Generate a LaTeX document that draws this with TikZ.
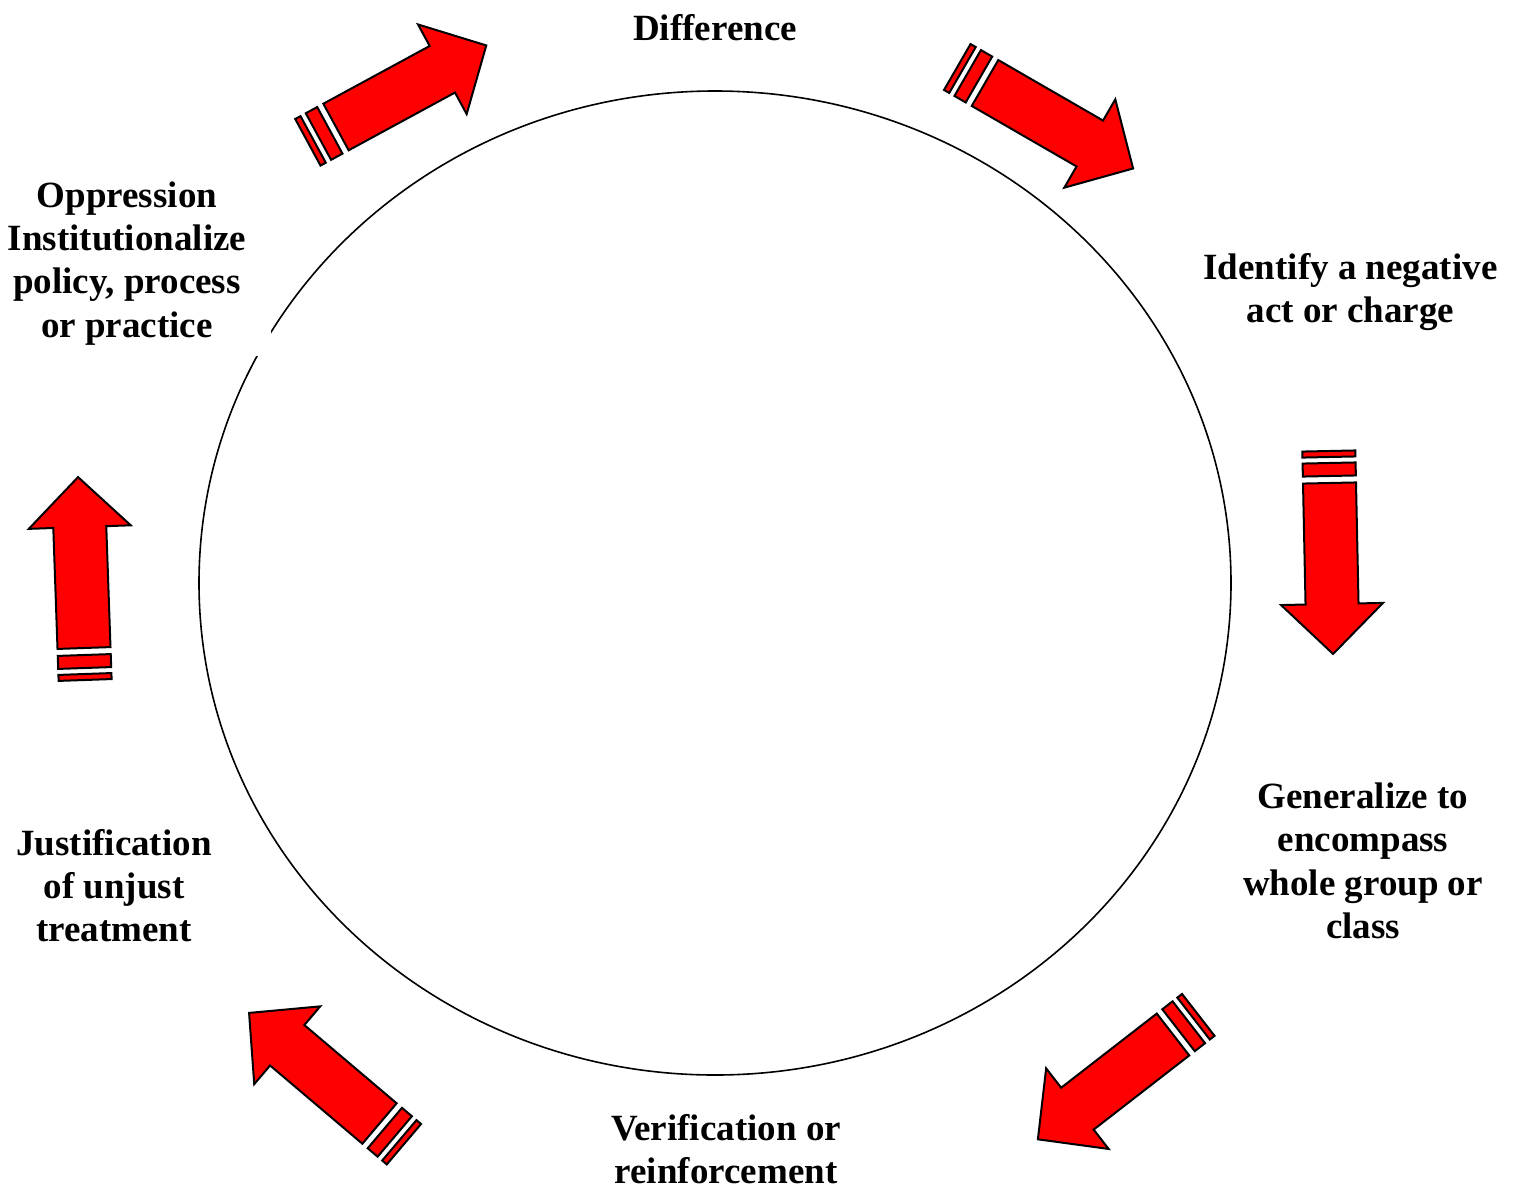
\documentclass[tikz,border=0pt]{standalone}
\usepackage{fontspec}
\setmainfont{Liberation Serif}
\newcommand\stripedarrow[3]{%
  \begin{scope}[shift={(#1,#2)}, rotate=#3]
    \draw[redshape] (0,-26.5) -- (121,-26.5) -- (121,-51) -- (171,0) -- (121,51) -- (121,26.5) -- (0,26.5) -- cycle;
    \draw[redshape] (-20,-26.5) rectangle (-7,26.5);
    \draw[redshape] (-32,-26.5) rectangle (-26,26.5);
  \end{scope}}
\begin{document}
\begin{tikzpicture}[x=1pt,y=-1pt,
  redshape/.style={fill=red, draw=black, line width=2pt, line join=miter},
  lbl/.style={font=\fontsize{37}{43.3}\selectfont\bfseries, align=center, inner sep=0pt, anchor=north}]
\useasboundingbox (0,0) rectangle (1515,1189);
\draw[line width=1.6pt] (715,583) ellipse [x radius=516pt, y radius=492pt];
\stripedarrow{336}{127}{28.5}
\stripedarrow{985}{83}{-30}
\stripedarrow{1329.5}{483}{-88.8}
\stripedarrow{1173}{1034.5}{-142.2}
\stripedarrow{379.5}{1123.5}{139.7}
\stripedarrow{84}{648}{92}
\node[lbl] (diff) at (715,9.7) {\strut Difference};
\node[lbl] (ident) at (1350.5,248.7) {\strut Identify a negative\\act or charge};
\node[lbl] (gen) at (1363,778) {\strut Generalize to\\encompass\\whole group or\\class};
\node[lbl] (verif) at (726,1109.5) {\strut Verification or\\reinforcement};
\node[lbl] (just) at (114,824.7) {\strut Justification\\of unjust\\treatment};
\node[lbl, fill=white, minimum width=288pt, inner ysep=6pt] (opp) at (127,170.7) {\strut Oppression\\Institutionalize\\policy, process\\or practice\strut};
\end{tikzpicture}
\end{document}
